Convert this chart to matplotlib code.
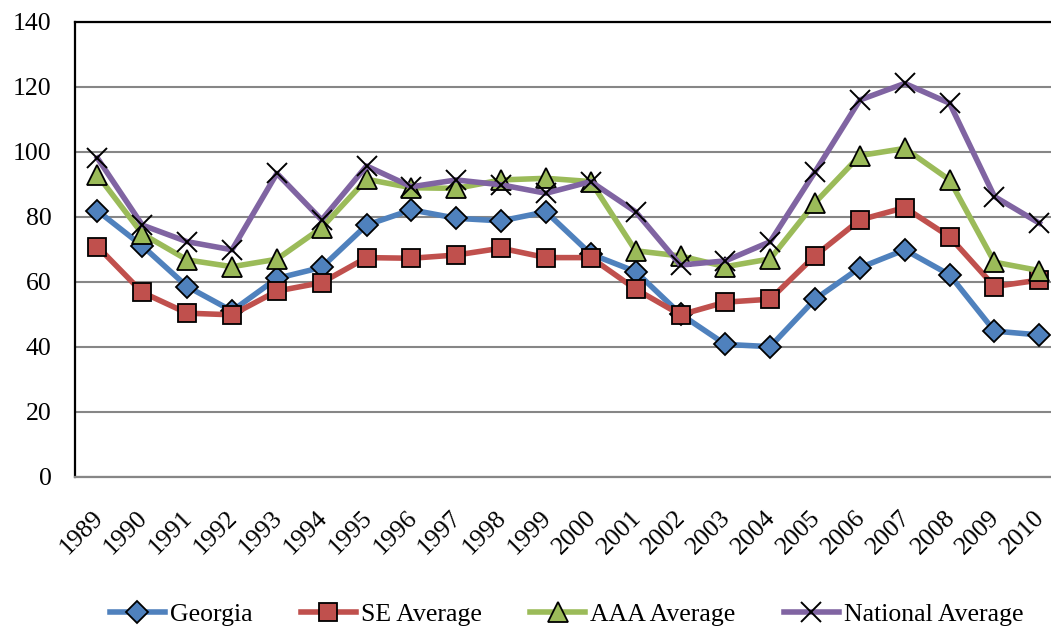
import matplotlib
matplotlib.use("Agg")
import matplotlib.pyplot as plt
import matplotlib.transforms as mtransforms

years = [str(y) for y in range(1989, 2011)]

georgia = [81.8, 71.0, 58.5, 51.0, 61.0, 64.4, 77.4, 82.1, 79.5, 78.7, 81.5,
           68.5, 63.1, 50.0, 40.7, 40.0, 54.6, 64.3, 69.8, 62.1, 44.8, 43.6]
se_avg = [70.8, 56.7, 50.3, 49.8, 57.1, 59.7, 67.4, 67.2, 68.2, 70.3, 67.4,
          67.4, 57.7, 49.8, 53.7, 54.6, 68.0, 79.0, 82.8, 73.8, 58.5, 60.5]
aaa_avg = [92.8, 74.7, 66.7, 64.6, 66.9, 76.6, 91.5, 88.9, 88.7, 91.3, 91.8,
           90.8, 69.5, 67.9, 64.6, 67.0, 84.3, 98.8, 101.0, 91.3, 66.0, 63.4]
national_avg = [98.0, 77.4, 72.3, 69.8, 93.3, 79.0, 95.6, 89.2, 91.3, 89.8, 87.2,
                90.8, 81.5, 65.1, 66.4, 72.3, 93.8, 115.9, 121.0, 114.9, 86.2, 78.0]

plt.rcParams["font.family"] = ["Liberation Serif", "DejaVu Serif"]

fig = plt.figure(figsize=(10.51, 6.28), dpi=100)
# plot area runs a little past the right edge of the canvas
ax = fig.add_axes([0.0714, 0.241, 0.9388, 0.7245])

x = range(len(years))
ax.plot(x, georgia, color="#4F81BD", lw=4, marker="D", ms=11,
        mfc="#4F81BD", mec="black", mew=1.3, label="Georgia", zorder=3)
ax.plot(x, se_avg, color="#C0504D", lw=4, marker="s", ms=12.5,
        mfc="#C0504D", mec="black", mew=1.3, label="SE Average", zorder=3)
ax.plot(x, aaa_avg, color="#9BBB59", lw=4, marker="^", ms=14,
        mfc="#9BBB59", mec="black", mew=1.3, label="AAA Average", zorder=3)
ax.plot(x, national_avg, color="#8064A2", lw=4, marker="x", ms=14,
        mec="black", mew=1.4, label="National Average", zorder=3)

ax.set_xlim(-0.5, len(years) - 0.5)
ax.set_ylim(0, 140)
ax.set_yticks(range(0, 141, 20))
ax.set_xticks(list(x))
ax.set_xticklabels(years, rotation=45, ha="right", va="center",
                   rotation_mode="anchor")
ax.tick_params(axis="both", length=0, labelsize=18.5)
ax.tick_params(axis="y", pad=17)
ax.tick_params(axis="x", pad=27)

# small rightward nudge for the slanted year labels
shift = mtransforms.ScaledTranslation(2 / 100, 0, fig.dpi_scale_trans)
for lbl in ax.get_xticklabels():
    lbl.set_transform(lbl.get_transform() + shift)

ax.grid(axis="y", color="#868686", lw=1.5)
ax.set_axisbelow(True)
ax.spines["right"].set_visible(False)
ax.spines["left"].set_color("black")
ax.spines["left"].set_linewidth(1.6)
ax.spines["top"].set_color("black")
ax.spines["top"].set_linewidth(1.6)
ax.spines["bottom"].set_color("#868686")
ax.spines["bottom"].set_linewidth(1.6)

fig.legend(loc="lower center", bbox_to_anchor=(0.539, -0.034), ncol=4,
           frameon=False, fontsize=18.5, handlelength=2.15,
           columnspacing=1.87, handletextpad=0.2)

fig.savefig("out.png", dpi=100)
